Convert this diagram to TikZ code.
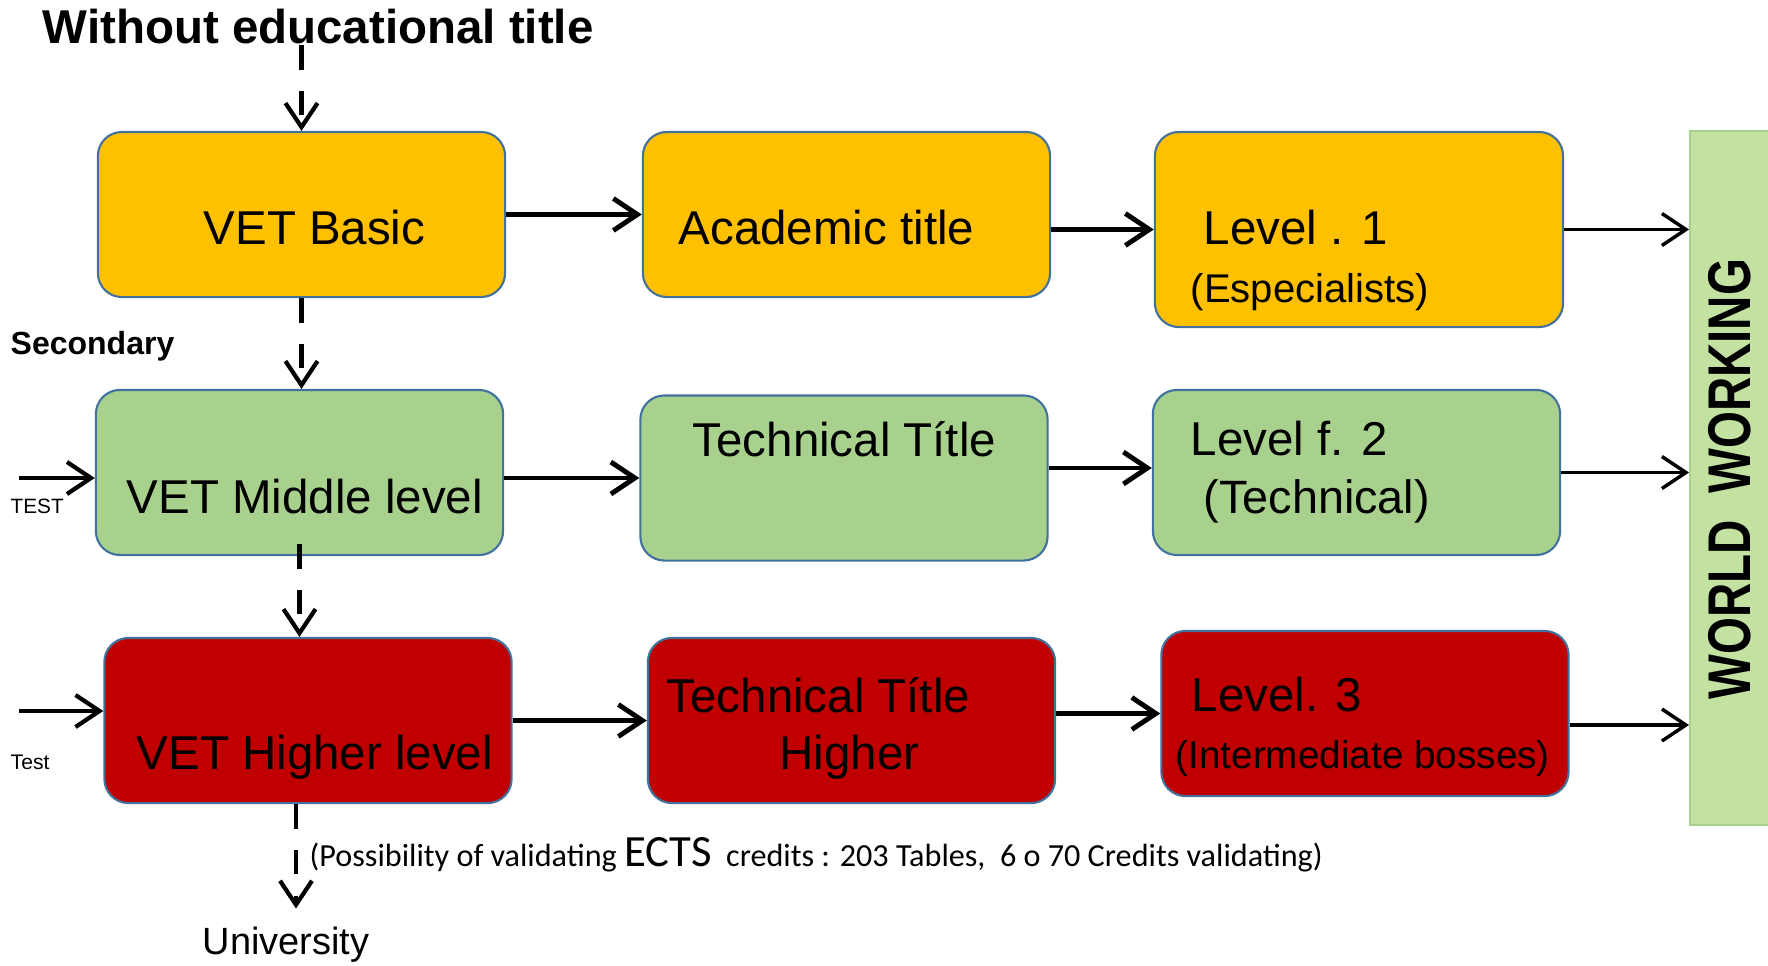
\documentclass[tikz,border=0pt]{standalone}
\usepackage{fontspec}
\setmainfont{Liberation Sans}
\newfontfamily\calib{Carlito}
\usetikzlibrary{arrows.meta}
\usetikzlibrary{calc}
\usetikzlibrary{positioning}

\definecolor{boxyellow}{HTML}{FFC000}
\definecolor{boxgreen}{HTML}{A9D18E}
\definecolor{boxred}{HTML}{C00000}
\definecolor{boxedge}{HTML}{41719C}
\definecolor{barfill}{HTML}{C3E1A1}
\definecolor{baredge}{HTML}{A8D08D}

\tikzset{
  lvlbox/.style={draw=boxedge, line width=0.6pt, rounded corners=2.4mm,
    minimum width=4.07cm, minimum height=1.65cm, inner sep=0pt},
  txt/.style={anchor=west, inner sep=0pt, font=\fontsize{13.5}{16}\selectfont},
  arr/.style={-{Straight Barb[length=2.4mm,width=3.2mm]}, line width=1.4pt},
  thinarr/.style={arr, line width=1pt},
  dasharr/.style={arr, line width=1.2pt, dash pattern=on 7pt off 6pt},
}

\begin{document}
\begin{tikzpicture}[x=0.01cm,y=-0.01cm]
  \useasboundingbox (0,0) rectangle (1768,966);

  % boxes
  \node[lvlbox, fill=boxyellow] (basic) at (301.5,214.5) {};
  \node[lvlbox, fill=boxyellow] (acad) at (846.5,214.5) {};
  \node[lvlbox, fill=boxyellow, minimum width=4.08cm, minimum height=1.95cm] (lev1) at (1359,229.5) {};
  \node[lvlbox, fill=boxgreen] (middle) at (299.5,472.5) {};
  \node[lvlbox, fill=boxgreen] (tech) at (844,478) {};
  \node[lvlbox, fill=boxgreen] (lev2) at (1356.5,472.5) {};
  \node[lvlbox, fill=boxred] (higher) at (308,720.5) {};
  \node[lvlbox, fill=boxred] (techh) at (851.5,720.5) {};
  \node[lvlbox, fill=boxred] (lev3) at (1365,713.5) {};
  \node[draw=baredge, fill=barfill, line width=0.5pt, minimum width=0.8cm,
    minimum height=6.94cm, inner sep=0pt] (world) at (1730,478) {};

  % texts in the boxes
  \node[txt] (tBasic) at (203,228) {VET Basic};
  \node[txt] (tAcad) at (678,228) {Academic title};
  \node[txt] (tLev1) at (1203,228) {Level . 1};
  \node[txt, font=\fontsize{11.4}{14}\selectfont] (tEsp) at (1190,292) {(Especialists)};
  \node[txt] (tMiddle) at (126,497) {VET Middle level};
  \node[txt] (tTech) at (692,439) {Technical Títle};
  \node[txt] (tLev2) at (1190,439) {Level f. 2};
  \node[txt, font=\fontsize{13.3}{16}\selectfont] (tTechn) at (1203,501) {(Technical)};
  \node[txt] (tHigher) at (136,757) {VET Higher level};
  \node[txt] (tTechh) at (666,695) {Technical Títle};
  \node[txt] (tHigh) at (779,757) {Higher};
  \node[txt] (tLev3) at (1191,695) {Level. 3};
  \node[txt, font=\fontsize{11}{14}\selectfont] (tBoss) at (1175,758) {(Intermediate bosses)};
  \node[inner sep=0pt, rotate=90, font=\fontsize{13.5}{16}\selectfont\bfseries] (tWorld) at (1730,479)
    {\scalebox{1}[1.27]{WORLD\ \ WORKING}};

  % texts outside
  \node[txt, font=\fontsize{13.5}{16}\selectfont\bfseries] (title) at (42,27) {Without educational title};
  \node[txt, font=\fontsize{9.1}{11}\selectfont\bfseries] (second) at (10,346) {Secondary};
  \node[txt, font=\fontsize{5.9}{7}\selectfont] (tstM) at (10,506) {TEST};
  \node[txt, font=\fontsize{6}{7}\selectfont] (tstH) at (10,762) {Test};
  \node[inner sep=0pt, font=\fontsize{10.8}{13}\selectfont] (uni) at (286,945) {University};
  \node[txt, font=\calib\fontsize{9.15}{11}\selectfont] (ects) at (309,855)
    {(Possibility of validating {\fontsize{12.7}{14}\selectfont ECTS}\ \ credits : 203 Tables,\ \ 6 o 70 Credits validating)};

  \coordinate (inM) at (19,478);
  \coordinate (inH) at (19,711);

  % dashed connectors
  \draw[dasharr] (title.south -| basic.north) -- (basic.north);
  \draw[dasharr] (basic.south) -- (basic.south |- middle.north);
  \draw[dasharr] ($(middle.south)+(0,-12)$) -- (middle.south |- higher.north);
  \draw[dasharr] ($(higher.south)+(-12,0)$) -- ($(higher.south |- uni.north)+(-12,-18)$);

  % solid connectors
  \draw[arr] (basic.east) -- (acad.west);
  \draw[arr] (acad.east |- lev1.west) -- (lev1.west);
  \draw[thinarr] (lev1.east) -- (lev1.east -| world.west);
  \draw[arr] (middle.east |- inM) -- (inM -| tech.west);
  \draw[arr] (tech.east |- 0,468) -- (lev2.west |- 0,468);
  \draw[thinarr] (lev2.east) -- (lev2.east -| world.west);
  \draw[arr] (higher.east) -- (techh.west);
  \draw[arr] (techh.east |- lev3.west) -- (lev3.west);
  \draw[thinarr] (lev3.east |- 0,725) -- (world.west |- 0,725);
  \draw[arr, line width=1.2pt] (inM) -- (inM -| middle.west);
  \draw[arr, line width=1.2pt] (inH) -- (inH -| higher.west);
\end{tikzpicture}
\end{document}
